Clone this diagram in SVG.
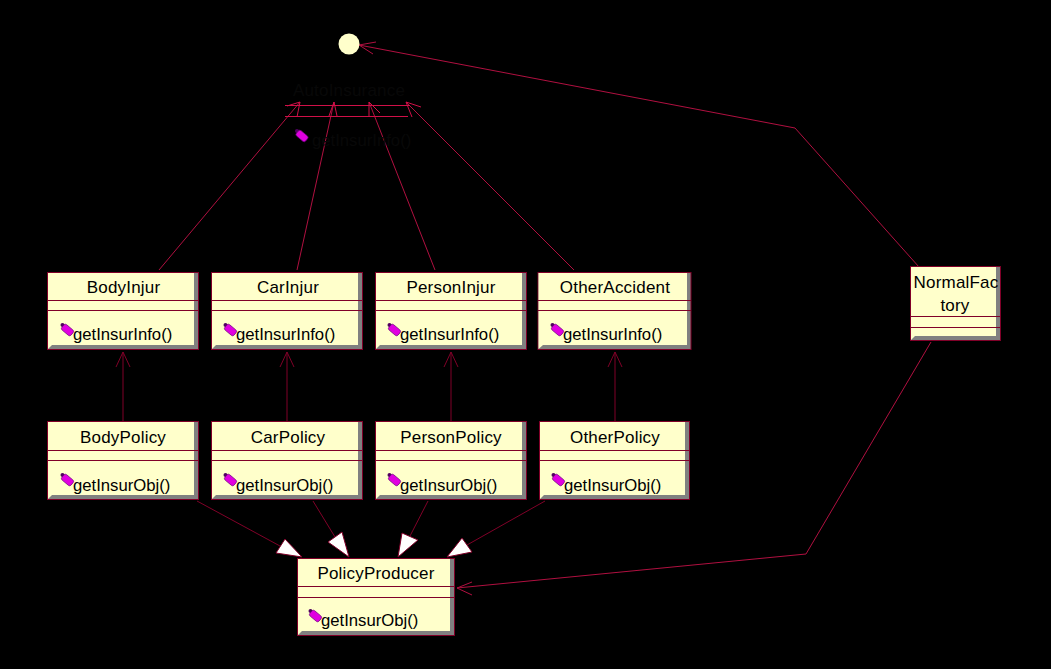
<svg xmlns="http://www.w3.org/2000/svg" width="1051" height="669" viewBox="0 0 1051 669">
<style>
.o{fill:#808080;stroke:#800028;stroke-width:1}
.b{fill:#ffffcb}
.d{stroke:#800028;stroke-width:1;fill:none}
.c{stroke:#800028;stroke-width:1;fill:none}
.r{stroke:#b01040;stroke-width:1;fill:none}
.p{stroke:#d01048;stroke-width:1;fill:none}
.h{fill:#fff;stroke:#800028;stroke-width:1}
text{font-family:"Liberation Sans",Arial,sans-serif;font-size:16.700px;fill:#000}
.t{font-size:17px;letter-spacing:.2px;text-anchor:middle}
.g{fill:#080808}
</style>
<defs>
<g id="k"><circle cx="-5" cy="-5" r="2" fill="#500060"/><rect x="-6" y="-3.500" width="12" height="7" rx="2" transform="rotate(40)" fill="#e000e0" stroke="#700080" stroke-width=".7"/></g>
</defs>
<rect width="1051" height="669" fill="#000"/>
<g id="connectors">
<path class="r" d="M159 270L300 102M297 270L334 102M435 270L369 102M574 270L406 102M919 267L795 128L359 45M931 342L806 554L457 588"/>
<path class="p" d="M287 106L300 102L297 117M329 116L334 102L337 116M369 117L369 102L380 113M421 107L406 102L412 117"/>
<path class="r" d="M376 42L359 45L373 54M472 582L457 588L472 595"/>
<path class="c" d="M123 421V352M287 421V352M451 421V352M615 421V352M116 367L123 352L130 367M280 367L287 352L294 367M444 367L451 352L458 367M608 367L615 352L622 367M197 501L280 546M313 501L335 537M428 501L410 536M545 501L467 545"/>
<path class="h" d="M276 553L285 539L302 557ZM328 542L342 532L349 557ZM398 557L402 533L418 540ZM447 557L462 538L472 552Z"/>
</g>
<g id="AutoInsurance"><circle cx="349" cy="44" r="10.500" fill="#ffffcb"/>
<text class="g t" x="349" y="96">AutoInsurance</text>
<path class="p" d="M285 105.500H410M285 116.500H408"/>
<use href="#k" x="302" y="136"/>
<text class="g" x="312" y="146">getInsurInfo()</text></g>
<g id="BodyInjur"><rect class="o" x="47.500" y="272.500" width="151" height="77"/><path class="b" d="M48 273H194V345H52L48 349Z"/><path class="d" d="M47 300.500H198M47 310.500H198"/><text class="t" x="123.500" y="293">BodyInjur</text><use href="#k" x="67.500" y="330"/><text x="73" y="340">getInsurInfo()</text></g>
<g id="CarInjur"><rect class="o" x="211.500" y="272.500" width="151" height="77"/><path class="b" d="M212 273H358V345H216L212 349Z"/><path class="d" d="M211 300.500H362M211 310.500H362"/><text class="t" x="288" y="293">CarInjur</text><use href="#k" x="230.500" y="330"/><text x="236" y="340">getInsurInfo()</text></g>
<g id="PersonInjur"><rect class="o" x="375.500" y="272.500" width="151" height="77"/><path class="b" d="M376 273H522V345H380L376 349Z"/><path class="d" d="M375 300.500H526M375 310.500H526"/><text class="t" x="451" y="293">PersonInjur</text><use href="#k" x="394.500" y="330"/><text x="400" y="340">getInsurInfo()</text></g>
<g id="OtherAccident"><rect class="o" x="538" y="272.500" width="153" height="77"/><path class="b" d="M538.500 273H687V345H543L538.500 349Z"/><path class="d" d="M538 300.500H691M538 310.500H691"/><text class="t" x="615" y="293">OtherAccident</text><use href="#k" x="557.500" y="330"/><text x="563" y="340">getInsurInfo()</text></g>
<g id="BodyPolicy"><rect class="o" x="47.500" y="421.500" width="151" height="78"/><path class="b" d="M48 422H194V495H52L48 499Z"/><path class="d" d="M47 450.500H198M47 460.500H198"/><text class="t" x="123" y="443">BodyPolicy</text><use href="#k" x="67.500" y="480"/><text x="73" y="491">getInsurObj()</text></g>
<g id="CarPolicy"><rect class="o" x="211.500" y="421.500" width="151" height="78"/><path class="b" d="M212 422H358V495H216L212 499Z"/><path class="d" d="M211 450.500H362M211 460.500H362"/><text class="t" x="288" y="443">CarPolicy</text><use href="#k" x="230.500" y="480"/><text x="236" y="491">getInsurObj()</text></g>
<g id="PersonPolicy"><rect class="o" x="375.500" y="421.500" width="151" height="78"/><path class="b" d="M376 422H522V495H380L376 499Z"/><path class="d" d="M375 450.500H526M375 460.500H526"/><text class="t" x="451" y="443">PersonPolicy</text><use href="#k" x="394.500" y="480"/><text x="400" y="491">getInsurObj()</text></g>
<g id="OtherPolicy"><rect class="o" x="539.500" y="421.500" width="150" height="78"/><path class="b" d="M540 422H685V495H544L540 499Z"/><path class="d" d="M539 450.500H690M539 460.500H690"/><text class="t" x="615" y="443">OtherPolicy</text><use href="#k" x="558.500" y="480"/><text x="564" y="491">getInsurObj()</text></g>
<g id="PolicyProducer"><rect class="o" x="297.500" y="558.500" width="157" height="77"/><path class="b" d="M298 559H450V631H302L298 635Z"/><path class="d" d="M297 586.500H455M297 597.500H455"/><text class="t" x="376" y="579">PolicyProducer</text><use href="#k" x="315.500" y="616"/><text x="321" y="626">getInsurObj()</text></g>
<g id="NormalFactory"><rect class="o" x="910.500" y="266.500" width="90" height="74"/><path class="b" d="M911 267H996V336H915L911 340Z"/><path class="d" d="M910 316.500H1001M910 327.500H1001"/><text class="t" x="956" y="288">NormalFac</text><text class="t" x="955" y="311">tory</text></g>
</svg>
